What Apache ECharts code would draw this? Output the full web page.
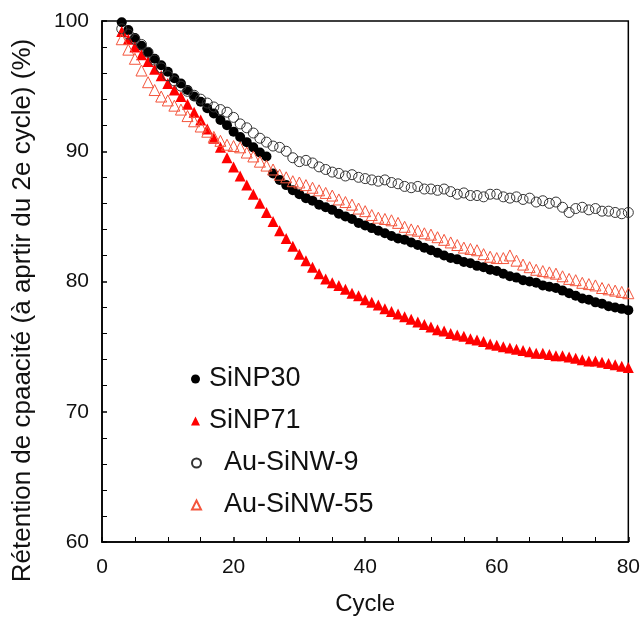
<!DOCTYPE html>
<html>
<head>
<meta charset="utf-8">
<script src="https://cdn.jsdelivr.net/npm/echarts@6/dist/echarts.min.js"></script>
<style>html,body{margin:0;padding:0;background:#fff;}#c{width:643px;height:621px;}</style>
</head>
<body>
<div id="c"></div>
<script>
const cycles = [3,4,5,6,7,8,9,10,11,12,13,14,15,16,17,18,19,20,21,22,23,24,25,26,27,28,29,30,31,32,33,34,35,36,37,38,39,40,41,42,43,44,45,46,47,48,49,50,51,52,53,54,55,56,57,58,59,60,61,62,63,64,65,66,67,68,69,70,71,72,73,74,75,76,77,78,79,80];
const siNP30 = [99.9,99.3,98.7,98.1,97.6,97.1,96.6,96.1,95.6,95.2,94.7,94.2,93.8,93.3,92.9,92.4,92.0,91.5,91.1,90.7,90.3,89.9,89.6,88.3,87.8,87.4,87.0,86.7,86.4,86.2,85.9,85.7,85.5,85.2,85.0,84.8,84.5,84.3,84.1,83.9,83.7,83.5,83.3,83.2,83.0,82.8,82.6,82.4,82.2,82.0,81.8,81.7,81.5,81.4,81.2,81.1,80.9,80.8,80.6,80.4,80.3,80.1,80.0,79.9,79.7,79.6,79.5,79.3,79.1,78.9,78.7,78.6,78.4,78.3,78.1,78.0,77.9,77.8];
const siNP71 = [99.2,98.6,98.0,97.4,96.9,96.3,95.8,95.2,94.7,94.2,93.6,93.0,92.4,91.7,91.0,90.3,89.5,88.8,88.1,87.4,86.7,86.0,85.3,84.6,83.9,83.3,82.7,82.1,81.6,81.1,80.6,80.2,79.9,79.7,79.4,79.1,78.9,78.6,78.4,78.2,77.9,77.7,77.5,77.3,77.1,76.9,76.7,76.5,76.3,76.2,76.0,75.9,75.8,75.6,75.5,75.4,75.2,75.1,75.0,74.9,74.8,74.7,74.6,74.5,74.5,74.4,74.3,74.3,74.2,74.1,74.0,73.9,73.9,73.8,73.7,73.6,73.5,73.4];
const auSiNW9 = [99.4,99.0,98.6,98.2,97.6,97.0,96.4,95.8,95.4,95.0,94.6,94.3,94.0,93.7,93.4,93.2,93.0,92.6,92.1,91.8,91.4,91.0,90.7,90.4,90.3,90.0,89.5,89.2,89.3,89.1,88.8,88.6,88.4,88.3,88.1,88.2,88.0,87.9,87.8,87.7,87.8,87.6,87.5,87.3,87.2,87.3,87.1,87.1,87.0,87.1,86.9,86.7,86.8,86.6,86.6,86.5,86.7,86.7,86.5,86.4,86.5,86.3,86.4,86.1,86.2,86.0,86.1,85.7,85.3,85.6,85.7,85.5,85.6,85.4,85.4,85.3,85.2,85.3];
const auSiNW55 = [98.6,97.8,97.1,96.2,95.3,94.7,94.2,93.9,93.5,93.2,92.7,92.3,91.9,91.5,91.1,90.8,90.5,90.4,90.3,89.9,89.6,89.2,88.9,88.6,88.2,88.0,87.7,87.6,87.4,87.2,87.0,86.8,86.6,86.3,86.1,85.9,85.6,85.4,85.1,84.9,84.8,84.7,84.5,84.2,84.0,83.9,83.7,83.6,83.4,83.2,83.0,82.8,82.6,82.5,82.4,82.1,81.9,81.8,81.8,82.0,81.6,81.3,81.1,80.9,80.8,80.7,80.6,80.4,80.2,80.1,79.9,79.8,79.7,79.5,79.4,79.3,79.2,79.1];
const seriesNames = ['SiNP30','SiNP71','Au-SiNW-9','Au-SiNW-55'];
const xTitle = 'Cycle';
const yTitle = 'Rétention de cpaacité (à aprtir du 2e cycle) (%)';

function pairs(vals){ return cycles.map((c,i)=>[c, vals[i]]); }
const FONT = 'Liberation Sans, Arial, sans-serif';
const chart = echarts.init(document.getElementById('c'), null, {renderer:'canvas'});
chart.setOption({
  animation:false,
  backgroundColor:'#fff',
  grid:{left:102, right:13, top:21, bottom:75, show:true, borderColor:'#000', borderWidth:1.5, backgroundColor:'transparent'},
  xAxis:{type:'value', min:0, max:80, interval:20,
    name:xTitle, nameLocation:'middle', nameGap:50,
    nameTextStyle:{fontFamily:FONT, fontSize:24, color:'#111'},
    axisLine:{show:true, lineStyle:{color:'#000', width:1.5}},
    axisTick:{show:true, inside:true, length:5, lineStyle:{color:'#000', width:1.5}},
    minorTick:{show:true, splitNumber:4, length:5, lineStyle:{color:'#000', width:1}},
    axisLabel:{fontFamily:FONT, fontSize:21, color:'#111', margin:15},
    splitLine:{show:false}},
  yAxis:{type:'value', min:60, max:100, interval:10,
    name:yTitle, nameLocation:'middle', nameGap:66, nameRotate:90,
    nameTextStyle:{fontFamily:FONT, fontSize:26, color:'#111', padding:[0,58,0,0]},
    axisLine:{show:true, lineStyle:{color:'#000', width:1.5}},
    axisTick:{show:true, inside:true, length:5, lineStyle:{color:'#000', width:1.5}},
    minorTick:{show:true, splitNumber:5, length:5, lineStyle:{color:'#000', width:1}},
    axisLabel:{fontFamily:FONT, fontSize:21, color:'#111', margin:13},
    splitLine:{show:false}},
  legend:[
    {data:[seriesNames[0], seriesNames[1]], orient:'vertical', left:191, top:365, itemGap:14, padding:0,
     itemWidth:9, itemHeight:9,
     textStyle:{fontFamily:FONT, fontSize:27, color:'#111', lineHeight:28, padding:[0,0,0,4]}},
    {data:[seriesNames[2], seriesNames[3]], orient:'vertical', left:191, top:449, itemGap:14, padding:0,
     itemWidth:9, itemHeight:9,
     textStyle:{fontFamily:FONT, fontSize:27, color:'#111', lineHeight:28, padding:[0,0,0,18]}}
  ],
  series:[
    {name:seriesNames[0], type:'scatter', data:pairs(siNP30), symbol:'circle', symbolSize:10,
     itemStyle:{color:'#000', opacity:1}},
    {name:seriesNames[1], type:'scatter', data:pairs(siNP71), symbol:'triangle', symbolSize:11,
     itemStyle:{color:'#ff0000', opacity:1}},
    {name:seriesNames[2], type:'scatter', data:pairs(auSiNW9), symbol:'circle', symbolSize:10,
     itemStyle:{color:'rgba(255,255,255,0)', borderColor:'#333', borderWidth:1, opacity:1}},
    {name:seriesNames[3], type:'scatter', data:pairs(auSiNW55), symbol:'triangle', symbolSize:11,
     itemStyle:{color:'rgba(255,255,255,0)', borderColor:'#f4553c', borderWidth:1, opacity:1}}
  ]
});
</script>
</body>
</html>
